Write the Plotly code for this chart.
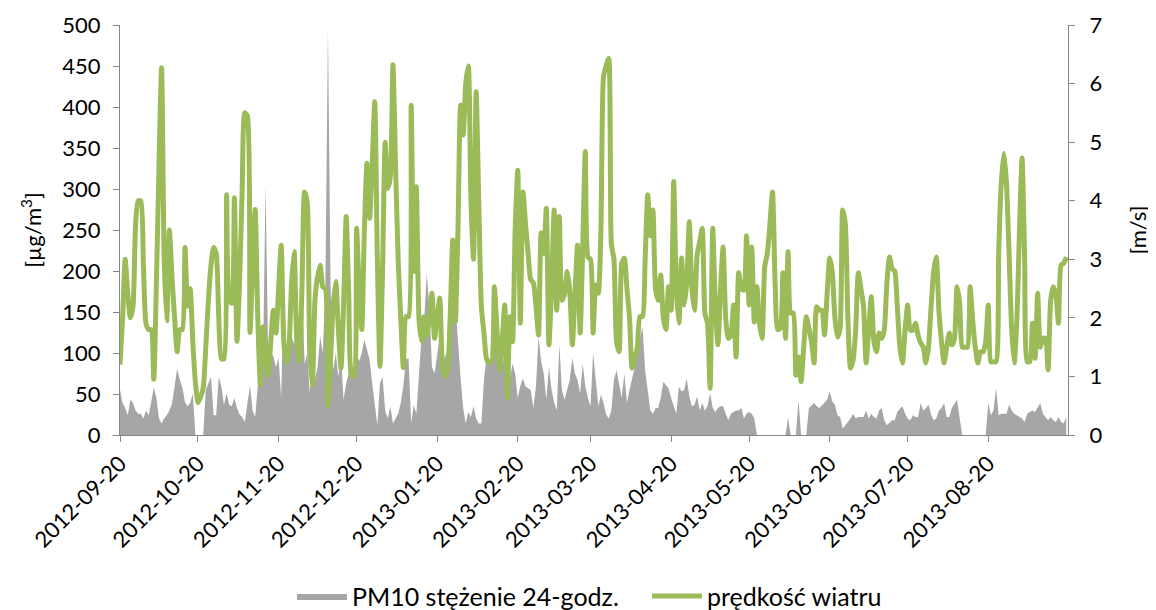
import pandas as pd
import plotly.graph_objects as go

start_date = "2012-09-20"

pm10 = [
    55, 39, 33, 24, 43, 39, 30, 26, 26, 20,
    30, 24, 40, 58, 45, 20, 14, 20, 24, 30,
    38, 60, 81, 67, 58, 40, 35, 39, 51, 0,
    0, 0, 0, 55, 63, 71, 24, 24, 71, 59,
    37, 51, 37, 35, 45, 33, 25, 22, 16, 41,
    60, 30, 22, 60, 80, 85, 305, 96, 100, 96,
    83, 94, 45, 189, 100, 148, 120, 110, 128, 150,
    189, 87, 100, 51, 100, 67, 83, 120, 100, 180,
    496, 181, 79, 100, 71, 96, 43, 63, 75, 96,
    71, 100, 90, 100, 116, 105, 92, 63, 39, 12,
    63, 71, 30, 20, 35, 14, 20, 26, 39, 60,
    92, 94, 14, 37, 26, 79, 120, 140, 197, 156,
    83, 75, 100, 120, 87, 95, 104, 152, 221, 160,
    108, 70, 33, 14, 28, 22, 35, 20, 14, 14,
    67, 96, 87, 92, 100, 116, 96, 108, 79, 59,
    70, 87, 75, 45, 60, 69, 59, 57, 55, 33,
    59, 120, 90, 75, 43, 83, 55, 40, 30, 110,
    55, 43, 55, 67, 94, 75, 67, 51, 87, 59,
    45, 35, 100, 63, 35, 49, 39, 25, 20, 30,
    67, 79, 63, 45, 75, 39, 55, 71, 83, 104,
    118, 132, 79, 51, 30, 26, 33, 33, 45, 65,
    61, 57, 45, 35, 26, 59, 53, 55, 69, 47,
    35, 37, 47, 30, 39, 30, 35, 51, 33, 28,
    33, 35, 35, 26, 18, 26, 28, 30, 30, 33,
    20, 26, 28, 26, 20, 0, 0, 0, 0, 0,
    0, 0, 0, 0, 0, 0, 0, 21, 0, 0,
    0, 43, 0, 0, 0, 33, 36, 39, 35, 33,
    36, 39, 43, 53, 41, 37, 24, 22, 8, 12,
    16, 20, 26, 20, 22, 22, 22, 30, 20, 26,
    22, 20, 30, 33, 18, 12, 15, 18, 18, 28,
    32, 35, 26, 20, 18, 24, 22, 22, 39, 30,
    33, 37, 25, 18, 20, 30, 33, 39, 22, 22,
    33, 38, 43, 20, 0, 0, 0, 0, 0, 0,
    0, 0, 0, 0, 39, 24, 30, 57, 24, 26,
    26, 26, 37, 30, 26, 24, 22, 20, 16, 26,
    28, 30, 28, 33, 39, 26, 22, 18, 22, 18,
    16, 22, 16, 14, 22,
]

wind = [
    1.2, 2.0, 3.0, 2.4, 2.0, 2.2, 3.6, 4.0, 4.0, 2.9,
    1.9, 1.8, 1.8, 0.95, 2.6, 4.6, 6.27, 3.0, 1.95, 3.5,
    2.7, 2.0, 1.42, 1.8, 1.8, 3.2, 2.2, 2.5, 1.6, 0.9,
    0.55, 0.65, 0.8, 1.5, 2.3, 2.9, 3.2, 3.1, 2.0, 1.3,
    1.3, 4.1, 2.3, 2.25, 4.05, 1.6, 2.6, 4.2, 5.5, 5.45,
    1.75, 2.8, 3.85, 2.0, 0.85, 1.85, 1.4, 1.02, 1.6, 2.13,
    1.74, 2.5, 3.24, 1.6, 1.23, 1.5, 2.6, 3.13, 1.6, 1.25,
    2.5, 4.15, 3.98, 1.4, 0.85, 2.3, 2.7, 2.9, 2.53, 2.5,
    0.5, 1.3, 2.2, 2.62, 1.8, 1.14, 2.2, 3.73, 2.4, 1.02,
    1.0, 3.53, 2.5, 1.8, 3.5, 4.64, 3.7, 4.6, 5.69, 3.0,
    1.17, 2.8, 5.0, 4.21, 4.41, 6.32, 4.6, 3.0, 2.0, 1.15,
    2.02, 2.02, 5.63, 2.79, 4.24, 2.0, 1.6, 2.02, 1.7, 2.0,
    2.42, 1.65, 2.0, 2.34, 1.2, 0.99, 1.11, 2.0, 3.33, 1.93,
    3.5, 5.63, 5.12, 6.0, 6.3, 4.0, 3.0, 5.86, 4.0, 2.2,
    1.74, 1.3, 1.23, 1.25, 2.53, 1.8, 1.11, 1.6, 2.22, 0.63,
    2.02, 1.59, 3.5, 4.52, 1.91, 4.15, 3.6, 3.1, 2.65, 2.6,
    2.2, 1.71, 3.45, 3.1, 3.87, 1.54, 2.5, 3.84, 2.13, 3.73,
    2.3, 2.4, 2.79, 2.47, 1.54, 2.4, 3.24, 1.74, 3.2, 4.84,
    3.04, 3.0, 1.74, 2.56, 2.42, 3.5, 6.12, 6.3, 6.43, 3.27,
    3.0, 1.6, 1.42, 2.93, 3.02, 2.5, 2.0, 1.14, 1.3, 1.5,
    2.02, 2.02, 3.0, 4.1, 3.4, 3.84, 2.5, 2.3, 2.73, 2.0,
    1.8, 2.53, 2.13, 4.33, 2.5, 1.91, 3.02, 2.22, 2.6, 3.64,
    2.5, 2.13, 3.07, 3.3, 3.53, 2.08, 1.9, 0.8, 3.53, 2.2,
    1.54, 2.5, 3.21, 2.0, 1.65, 1.7, 2.22, 1.33, 2.77, 2.5,
    2.47, 3.4, 2.22, 3.21, 1.93, 2.53, 1.9, 1.65, 2.87, 3.1,
    3.6, 4.15, 2.6, 1.8, 1.82, 2.77, 1.65, 3.13, 2.08, 2.08,
    1.02, 1.33, 0.91, 1.5, 2.02, 1.82, 1.6, 1.23, 2.19, 2.13,
    2.13, 1.71, 2.4, 3.02, 2.78, 2.0, 1.67, 1.82, 3.84, 3.6,
    2.0, 1.14, 1.28, 1.8, 2.77, 2.5, 2.2, 1.23, 1.8, 2.36,
    1.6, 1.42, 1.74, 1.65, 1.8, 2.6, 3.04, 2.84, 2.8, 2.2,
    1.5, 1.23, 1.8, 2.22, 1.79, 1.79, 1.91, 1.7, 1.57, 1.5,
    1.23, 1.5, 2.19, 2.8, 3.04, 2.13, 1.6, 1.23, 1.5, 1.74,
    1.54, 1.65, 2.53, 2.25, 1.5, 1.5, 1.5, 2.53, 1.96, 1.5,
    1.23, 1.42, 1.42, 1.6, 2.22, 1.25, 1.25, 1.25, 3.1, 4.3,
    4.81, 4.3, 3.1, 1.8, 1.23, 1.96, 3.5, 4.73, 3.0, 1.25,
    1.25, 1.91, 1.31, 2.42, 1.5, 1.65, 1.65, 1.11, 2.3, 2.53,
    2.4, 1.91, 2.9, 2.93, 3.04,
]

tick_labels = [
    "2012-09-20", "2012-10-20", "2012-11-20", "2012-12-20", "2013-01-20",
    "2013-02-20", "2013-03-20", "2013-04-20", "2013-05-20", "2013-06-20",
    "2013-07-20", "2013-08-20",
]

dates = pd.date_range(start_date, periods=len(wind), freq="D")

FONT = "Lato"
AXIS_COLOR = "#868686"

fig = go.Figure()
fig.add_trace(go.Scatter(
    x=dates, y=pm10, name="PM10 stężenie 24-godz.",
    mode="lines", line=dict(width=0, color="#A6A6A6"),
    fill="tozeroy", fillcolor="#A6A6A6", yaxis="y",
))
fig.add_trace(go.Scatter(
    x=dates, y=wind, name="prędkość wiatru",
    mode="lines", line=dict(width=5, color="#9BBB59", shape="spline", smoothing=0.6),
    yaxis="y2",
))

# page body has an 8px margin, so the figure is offset by (8, 8)
fig.update_layout(
    width=1148, height=602,
    margin=dict(l=112, r=88, t=17, b=175, autoexpand=False),
    paper_bgcolor="white", plot_bgcolor="white",
    font=dict(family=FONT, size=22, color="black"),
    showlegend=True,
    legend=dict(orientation="h", x=0.1814, xanchor="left", y=-0.393, yanchor="middle",
                font=dict(size=25), itemwidth=50, traceorder="normal",
                entrywidth=290, entrywidthmode="pixels"),
    xaxis=dict(
        type="date", automargin=False,
        range=[dates[0], dates[-1] + pd.Timedelta(hours=16)],
        tickvals=pd.to_datetime(tick_labels), ticktext=tick_labels,
        tickangle=-45, showgrid=False, zeroline=False,
        showline=True, linecolor=AXIS_COLOR, linewidth=1,
        ticks="outside", ticklen=6, tickcolor=AXIS_COLOR,
        tickfont=dict(size=22),
    ),
    yaxis=dict(
        range=[0, 500], dtick=50, showgrid=False, zeroline=False, automargin=False,
        showline=True, linecolor=AXIS_COLOR, linewidth=1,
        ticks="outside", ticklen=6, tickcolor=AXIS_COLOR, ticklabelstandoff=8,
        title=dict(text="[µg/m<sup>3</sup>]", standoff=14, font=dict(size=22)),
    ),
    yaxis2=dict(
        range=[0, 7], dtick=1, overlaying="y", side="right", automargin=False,
        showgrid=False, zeroline=False,
        showline=True, linecolor=AXIS_COLOR, linewidth=1,
        ticks="outside", ticklen=6, tickcolor=AXIS_COLOR, ticklabelstandoff=10,
        title=dict(text="[m/s]", standoff=29, font=dict(size=22)),
    ),
)

fig.write_html("out.html")
